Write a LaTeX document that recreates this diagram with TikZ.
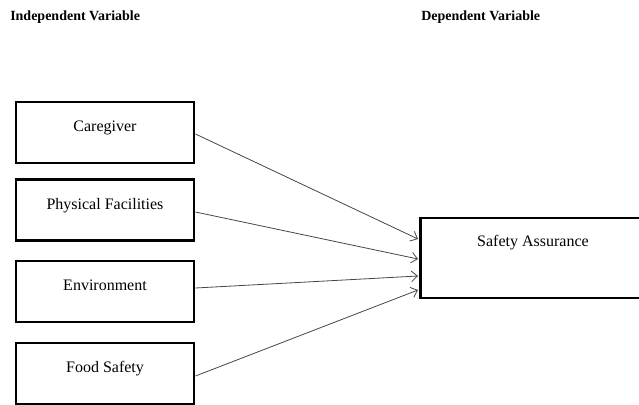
\documentclass[tikz,border=0pt]{standalone}
\usepackage{fontspec}
\setmainfont{Liberation Serif}
\usepackage{tikz}
\usetikzlibrary{arrows.meta, positioning, calc}
\definecolor{linkgray}{RGB}{70, 70, 70}

\begin{document}
\begin{tikzpicture}[
        x=0.75pt, y=-0.75pt,
        varbox/.style={draw, line width=2.2pt, fill=white,
                    minimum width=133.5pt, minimum height=45.75pt,
                    inner sep=0pt, align=center, font=\fontsize{12}{14}\selectfont,
                    text height=8pt, text depth=9pt},
        head/.style={font=\fontsize{10.5}{12}\selectfont\bfseries, anchor=west, inner sep=0pt},
        link/.style={-{Straight Barb[length=4.5pt, width=8pt]}, linkgray, line width=0.6pt},
      ]
        \useasboundingbox (0,0) rectangle (639,404);

        \node[head] (indep) at (10,17) {Independent Variable};
        \node[head] (dep) at (421,17) {Dependent Variable};

        \node[varbox] (care) at (105,132.5) {Caregiver};
        \node[varbox] (phys) at (105,210) {Physical Facilities};
        \node[varbox] (env) at (105,291.5) {Environment};
        \node[varbox] (food) at (105,373.5) {Food Safety};

        \node[varbox, minimum width=190pt, minimum height=60pt, anchor=west]
          (safe) at (419,258) {};
        \node[font=\fontsize{12}{14}\selectfont, inner sep=0pt] (safetxt) at (533,243)
          {Safety Assurance};

        \draw[link] ($(care.east)+(0,1.5)$) -- ($(safe.west)+(-1,-19)$);
        \draw[link] ($(phys.east)+(0,2)$) -- ($(safe.west)+(-1,1)$);
        \draw[link] ($(env.east)+(0,-3.5)$) -- ($(safe.west)+(-1,18)$);
        \draw[link] ($(food.east)+(0,2.5)$) -- ($(safe.west)+(-1,32)$);
      \end{tikzpicture}
\end{document}
